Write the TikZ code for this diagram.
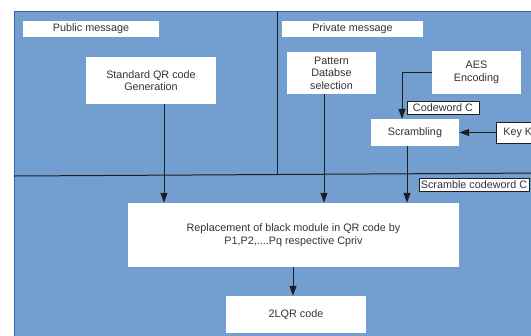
\documentclass[tikz,border=0pt]{standalone}
\usepackage{fontspec}
\setmainfont{Liberation Sans}
\usetikzlibrary{arrows.meta}
\definecolor{panel}{HTML}{729FCF}
\definecolor{paneledge}{HTML}{3465A4}
\definecolor{txt}{HTML}{333333}
\definecolor{wire}{HTML}{1E1E1E}
\tikzset{
  box/.style={fill=white, inner sep=0pt, align=center, text=txt,
    font=\fontsize{10.8bp}{12.6bp}\selectfont},
  tag/.style={box, draw=wire, line width=0.7bp},
  wireline/.style={draw=wire, line width=1bp},
  arr/.style={wireline, -{Triangle[length=10bp,width=7bp]}}
}
\begin{document}
\begin{tikzpicture}[x=1bp,y=-1bp]
\useasboundingbox (0,0) rectangle (531,335);
% background panel
\fill[panel] (14,11) rectangle (545,345);
\draw[paneledge, line width=0.8bp] (545,11) -- (14,11) -- (14,345);
% dividers between the three regions
\draw[wireline] (277,11) -- (277,175);
\draw[wireline] (14,176) -- (545,173);

% section headings
\node[box, minimum width=136bp, minimum height=16bp] (pub) at (91,29) {Public message};
\node[box, minimum width=141bp, minimum height=16bp] (priv) at (352.5,29) {Private message};

% processing blocks
\node[box, minimum width=130bp, minimum height=47bp] (std) at (151,80.5) {Standard QR code\\Generation};
\node[box, minimum width=89bp, minimum height=42bp] (pat) at (331.5,73) {Pattern\\Databse\\selection};
\node[box, minimum width=89bp, minimum height=43bp] (aes) at (476.5,72.5) {AES\\Encoding};
\node[box, minimum width=88bp, minimum height=27bp] (scr) at (415,132.5) {Scrambling};
\node[box, minimum width=331bp, minimum height=64bp] (rep) at (293.5,235) {Replacement of black module in QR code by\\P1,P2,....Pq respective Cpriv};
\node[box, minimum width=140bp, minimum height=37bp] (lqr) at (296,314.5) {2LQR code};

% labelled inputs and wire tags
\node[tag, minimum width=72bp, minimum height=13bp] (cw) at (443,107.5) {Codeword C};
\node[tag, anchor=west, inner xsep=7bp, minimum height=21bp] (key) at (496,132.5) {Key K};
\node[tag, minimum width=110bp, minimum height=13bp] (scw) at (474,184.5) {Scramble codeword C};

% connector columns
\coordinate (c1) at (164,0);
\coordinate (c2) at (324,0);
\coordinate (c3) at (407,0);
\coordinate (c4) at (402,0);
\coordinate (c5) at (293,0);

\draw[arr] (std.south -| c1) -- (rep.north -| c1);
\draw[arr] (pat.south -| c2) -- (rep.north -| c2);
\draw[arr] (scr.south -| c3) -- (rep.north -| c3);
\draw[arr] (aes.west) -| (scr.north -| c4);
\draw[arr] (key.west) -- (scr.east);
\draw[arr] (rep.south -| c5) -- (lqr.north -| c5);
\end{tikzpicture}
\end{document}
